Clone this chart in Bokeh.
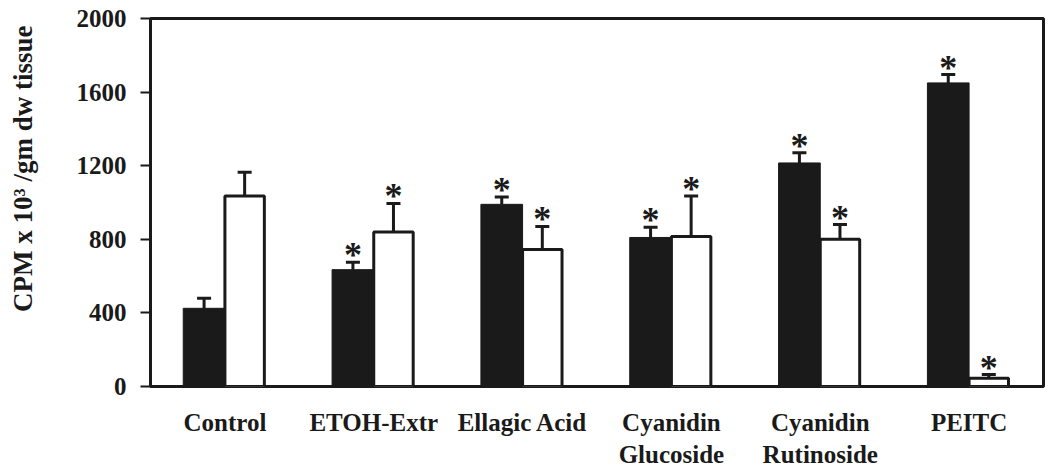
from bokeh.plotting import figure
from bokeh.models import (ColumnDataSource, FactorRange, Range1d, FixedTicker,
                          CategoricalAxis, Whisker, TeeHead)
from bokeh.transform import dodge
from bokeh.core.properties import value
from bokeh.embed import file_html
from bokeh.resources import INLINE

categories = ["Control", "ETOH-Extr", "Ellagic Acid", "Cyanidin Glucoside",
              "Cyanidin Rutinoside", "PEITC"]
label_line1 = ["Control", "ETOH-Extr", "Ellagic Acid", "Cyanidin", "Cyanidin", "PEITC"]
label_line2 = ["", "", "", "Glucoside", "Rutinoside", ""]
black_means = [425, 635, 990, 810, 1215, 1650]
black_sem = [55, 40, 40, 55, 55, 45]
white_means = [1035, 840, 745, 815, 800, 45]
white_sem = [130, 155, 125, 220, 80, 20]
black_sig = ["", "*", "*", "*", "*", "*"]
white_sig = ["", "*", "*", "*", "*", "*"]
y_ticks = [0, 400, 800, 1200, 1600, 2000]
y_title = "CPM x 10\u00b3 /gm dw tissue"

FONT = "Liberation Serif"
INK = "#1a1a1a"

src = ColumnDataSource(dict(
    cat=categories,
    bm=black_means, bhi=[m + e for m, e in zip(black_means, black_sem)],
    wm=white_means, whi=[m + e for m, e in zip(white_means, white_sem)],
    bs=black_sig, ws=white_sig,
))

axis_labels = [a + ("\n" + b if b else "") for a, b in zip(label_line1, label_line2)]

p = figure(x_range=FactorRange(factors=categories), y_range=Range1d(0, 2000),
           frame_width=893, frame_height=368, x_axis_location=None,
           min_border_left=150, min_border_top=18, min_border_right=7, min_border_bottom=0,
           output_backend="svg", toolbar_location=None, background_fill_color="white",
           border_fill_color="white")
p.extra_x_ranges = {"labels": FactorRange(factors=axis_labels)}

p.xgrid.visible = False
p.ygrid.visible = False
p.outline_line_color = INK
p.outline_line_width = 3
p.outline_line_alpha = 1

bx = dodge("cat", -0.14, range=p.x_range)
wx = dodge("cat", 0.1325, range=p.x_range)

p.vbar(x=bx, top="bm", bottom=0, width=0.28, source=src,
       fill_color=INK, line_color=INK, line_width=1)
p.vbar(x=wx, top="wm", bottom=0, width=0.265, source=src,
       fill_color="white", line_color=INK, line_width=3)

for xx, lo, hi in ((bx, "bm", "bhi"), (wx, "wm", "whi")):
    w = Whisker(source=src, base=xx, lower=lo, upper=hi, line_color=INK, line_width=3,
                upper_head=TeeHead(size=14, line_width=3, line_color=INK),
                lower_head=None)
    p.add_layout(w)

for xx, hi, s in ((bx, "bhi", "bs"), (wx, "whi", "ws")):
    p.text(x=xx, y=hi, text=s, source=src, text_font=value(FONT), text_font_style="bold",
           text_font_size="36px", text_align="center", text_baseline="alphabetic",
           y_offset=-7, text_color=INK)

# y axis
ya = p.yaxis[0]
ya.ticker = FixedTicker(ticks=y_ticks)
ya.axis_line_width = 3
ya.axis_line_color = INK
ya.major_tick_line_width = 2
ya.major_tick_line_color = INK
ya.major_tick_out = 10
ya.major_tick_in = 0
ya.minor_tick_line_color = None
ya.major_label_standoff = 14
ya.major_label_text_font = FONT
ya.major_label_text_font_style = "bold"
ya.major_label_text_font_size = "25px"
ya.major_label_text_color = INK
# leading no-break spaces lift the title above the frame centre, as in the original
ya.axis_label = "\u00a0" * 10 + y_title
ya.axis_label_standoff = 36
ya.axis_label_text_font = FONT
ya.axis_label_text_font_style = "bold"
ya.axis_label_text_font_size = "27px"
ya.axis_label_text_color = INK

# x axis labels (two lines)
xa = CategoricalAxis(x_range_name="labels", axis_line_color=None, major_tick_line_color=None,
                     major_tick_out=0, major_tick_in=0, minor_tick_line_color=None,
                     major_label_standoff=22, major_label_text_font=FONT,
                     major_label_text_font_style="bold", major_label_text_font_size="25px",
                     major_label_text_color=INK)
p.add_layout(xa, "below")

open("out.html", "w").write(file_html(p, INLINE))
